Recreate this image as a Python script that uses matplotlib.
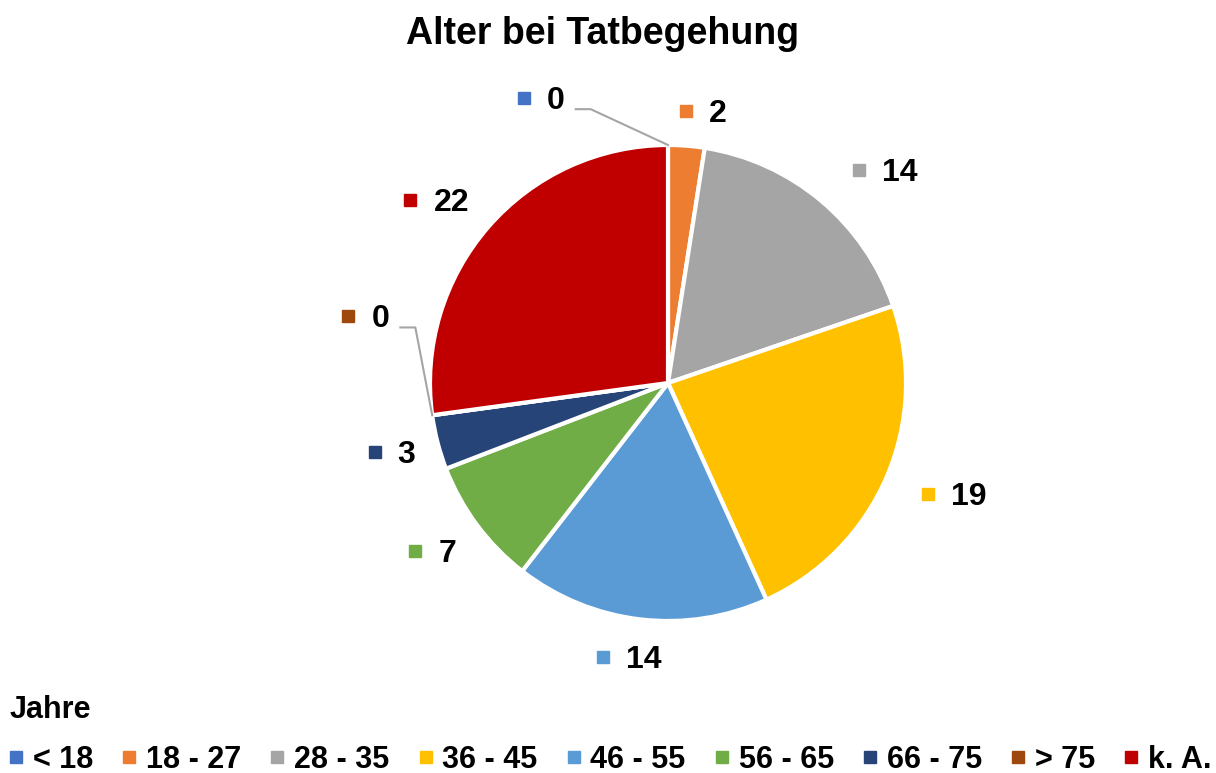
import numpy as np
import matplotlib
matplotlib.use("Agg")
import matplotlib.pyplot as plt
from matplotlib.lines import Line2D

plt.rcParams['font.family'] = ['Liberation Sans', 'DejaVu Sans']

# Daten
kategorien = ["< 18", "18 - 27", "28 - 35", "36 - 45", "46 - 55", "56 - 65", "66 - 75", "> 75", "k. A."]
werte = [0, 2, 14, 19, 14, 7, 3, 0, 22]
farben = ["#4472C4", "#ED7D31", "#A5A5A5", "#FFC000", "#5B9BD5",
          "#70AD47", "#264478", "#9E480E", "#C00000"]

# Lage der Datenbeschriftungen (Radiusfaktor, Winkelkorrektur in Grad)
lab_radius = [1.31, 1.153, 1.278, 1.29, 1.163, 1.214, 1.195, 1.30, 1.24]
lab_dwinkel = [-24.0, 3.0, 5.6, -2.1, 1.5, 1.1, 0.4, 20.2, -2.8]

W, H = 1216, 773
fig = plt.figure(figsize=(W / 100, H / 100), dpi=100)
ax = fig.add_axes([0, 0, 1, 1])

# Kreis: Mitte (668, 383) px, Radius 238 px
r_px = 238.0
cx, cy = 668, 383
ax.pie(werte, colors=farben, startangle=90, counterclock=False,
       wedgeprops=dict(edgecolor="white", linewidth=3))
ax.set_xlim(-cx / r_px, (W - cx) / r_px)
ax.set_ylim(-(H - cy) / r_px, cy / r_px)
ax.set_aspect("auto")
ax.axis("off")

px = 1 / r_px  # ein Pixel in Datenkoordinaten
gesamt = sum(werte)
grenzen = np.cumsum([0] + werte) / gesamt * 360
label_fs = 23
for i, w in enumerate(werte):
    winkel = (grenzen[i] + grenzen[i + 1]) / 2 + lab_dwinkel[i]
    rad = np.deg2rad(90 - winkel)
    gx = lab_radius[i] * np.cos(rad) - 4 * px
    gy = lab_radius[i] * np.sin(rad)
    half = (22 + 17 * len(str(w))) / 2 * px
    mx = gx - half + 6 * px
    ax.plot(mx, gy, marker="s", markersize=9, color=farben[i], linestyle="none")
    ax.text(mx + 23 * px, gy - 3 * px, str(w), fontsize=label_fs, fontweight="bold",
            ha="left", va="center")
    if w == 0:
        # Führungslinie zum Segmentrand
        a = np.deg2rad(90 - grenzen[i])
        x0 = mx + 52 * px
        yl = gy - 11 * px
        ax.plot([x0, x0 + 15 * px, np.cos(a)], [yl, yl, np.sin(a)],
                color="#A5A5A5", lw=1.5, zorder=1)

fig.text(603 / W, 1 - 34 / H, "Alter bei Tatbegehung", fontsize=27,
         fontweight="bold", ha="center", va="center")

handles = [Line2D([0], [0], marker="s", color="none", markerfacecolor=c,
                  markeredgecolor=c, markersize=9) for c in farben]
leg = fig.legend(handles, kategorien, loc="lower left",
                 bbox_to_anchor=(10 / W, -2 / H),
                 ncol=len(kategorien), frameon=False, title="Jahre",
                 prop=dict(size=22, weight="bold"), handlelength=0.4,
                 handletextpad=0.35, columnspacing=0.98, borderpad=0,
                 borderaxespad=0, labelspacing=0.67)
leg.get_title().set_fontsize(22)
leg.get_title().set_fontweight("bold")
leg._legend_box.align = "left"

fig.savefig("out.png", dpi=100)
